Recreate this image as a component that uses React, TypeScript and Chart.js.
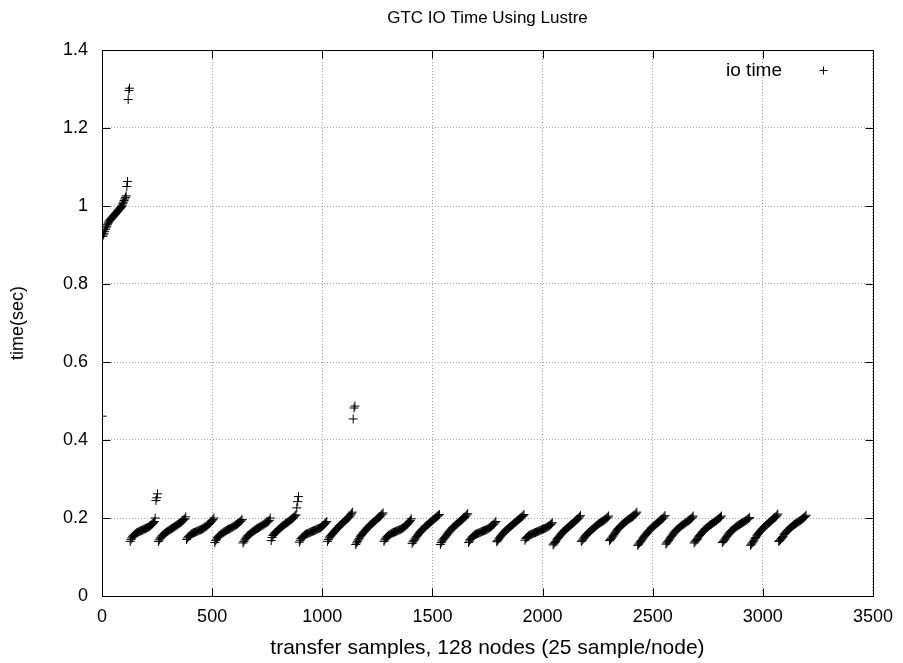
import { useEffect, useRef } from "react";
import { Chart, registerables } from "chart.js";

Chart.register(...registerables);

const TITLE = "GTC IO Time Using Lustre";
const X_TITLE = "transfer samples, 128 nodes (25 sample/node)";
const Y_TITLE = "time(sec)";
const SERIES_LABEL = "io time";

const X_TICKS = [0, 500, 1000, 1500, 2000, 2500, 3000, 3500];
const Y_TICKS = [0, 0.2, 0.4, 0.6, 0.8, 1.0, 1.2, 1.4];
const Y_TICK_LABELS = ["0", "0.2", "0.4", "0.6", "0.8", "1", "1.2", "1.4"];

const SAMPLES_PER_SEGMENT = 128;

// io time values per transfer round (sorted within each round, as plotted)
const SEG_00 = [0.461, 0.922, 0.926, 0.93, 0.935, 0.94, 0.944, 0.948, 0.952, 0.956, 0.959, 0.962, 0.964, 0.966, 0.968, 0.97, 0.972, 0.974, 0.976, 0.978, 0.98, 0.982, 0.984, 0.986, 0.988, 0.99, 0.992, 0.994, 0.996, 0.999, 1.002, 1.006, 1.01, 1.014, 1.018, 1.022, 1.026, 1.05, 1.063, 1.273, 1.296, 1.302];
const SEG_01 = [0.14, 0.145, 0.149, 0.152, 0.155, 0.157, 0.159, 0.16, 0.162, 0.163, 0.164, 0.165, 0.166, 0.167, 0.168, 0.169, 0.17, 0.171, 0.172, 0.173, 0.174, 0.175, 0.176, 0.177, 0.179, 0.18, 0.182, 0.184, 0.186, 0.188, 0.191, 0.2, 0.245, 0.252, 0.262];
const SEG_02 = [0.14, 0.144, 0.148, 0.151, 0.154, 0.156, 0.158, 0.16, 0.162, 0.164, 0.165, 0.167, 0.168, 0.17, 0.171, 0.173, 0.174, 0.176, 0.177, 0.179, 0.18, 0.182, 0.183, 0.185, 0.187, 0.188, 0.19, 0.192, 0.194, 0.196, 0.198, 0.203];
const SEG_03 = [0.145, 0.149, 0.152, 0.154, 0.156, 0.158, 0.16, 0.161, 0.162, 0.163, 0.164, 0.165, 0.166, 0.167, 0.168, 0.169, 0.17, 0.171, 0.172, 0.174, 0.175, 0.177, 0.178, 0.18, 0.182, 0.184, 0.186, 0.188, 0.191, 0.193, 0.196, 0.2];
const SEG_04 = [0.137, 0.142, 0.146, 0.15, 0.153, 0.155, 0.157, 0.159, 0.161, 0.162, 0.164, 0.165, 0.167, 0.168, 0.17, 0.171, 0.172, 0.173, 0.175, 0.176, 0.177, 0.179, 0.18, 0.182, 0.183, 0.185, 0.187, 0.189, 0.191, 0.193, 0.196];
const SEG_05 = [0.136, 0.14, 0.144, 0.148, 0.151, 0.154, 0.156, 0.158, 0.16, 0.162, 0.164, 0.165, 0.167, 0.169, 0.17, 0.172, 0.173, 0.175, 0.176, 0.178, 0.179, 0.181, 0.182, 0.184, 0.185, 0.187, 0.188, 0.19, 0.192, 0.194, 0.2];
const SEG_06 = [0.142, 0.15, 0.155, 0.158, 0.161, 0.163, 0.165, 0.167, 0.169, 0.171, 0.173, 0.175, 0.177, 0.179, 0.181, 0.182, 0.184, 0.186, 0.187, 0.189, 0.19, 0.192, 0.194, 0.195, 0.197, 0.199, 0.201, 0.203, 0.206, 0.208, 0.226, 0.242, 0.255];
const SEG_07 = [0.138, 0.143, 0.147, 0.15, 0.152, 0.154, 0.156, 0.158, 0.159, 0.16, 0.161, 0.162, 0.163, 0.164, 0.165, 0.166, 0.167, 0.168, 0.169, 0.17, 0.171, 0.172, 0.173, 0.174, 0.175, 0.177, 0.179, 0.181, 0.183, 0.186, 0.188, 0.191];
const SEG_08 = [0.14, 0.145, 0.149, 0.152, 0.155, 0.158, 0.16, 0.163, 0.165, 0.168, 0.17, 0.173, 0.175, 0.177, 0.18, 0.182, 0.184, 0.186, 0.188, 0.19, 0.192, 0.194, 0.196, 0.198, 0.2, 0.202, 0.205, 0.208, 0.211, 0.215, 0.454, 0.482, 0.487];
const SEG_09 = [0.132, 0.136, 0.14, 0.144, 0.148, 0.152, 0.155, 0.158, 0.161, 0.164, 0.166, 0.169, 0.171, 0.174, 0.176, 0.178, 0.181, 0.183, 0.185, 0.187, 0.189, 0.191, 0.193, 0.195, 0.197, 0.199, 0.201, 0.203, 0.205, 0.208, 0.21, 0.213];
const SEG_10 = [0.14, 0.144, 0.148, 0.151, 0.153, 0.155, 0.157, 0.158, 0.16, 0.161, 0.162, 0.163, 0.164, 0.165, 0.166, 0.167, 0.168, 0.169, 0.17, 0.171, 0.172, 0.174, 0.175, 0.177, 0.179, 0.181, 0.183, 0.185, 0.188, 0.191, 0.194, 0.198];
const SEG_11 = [0.135, 0.139, 0.142, 0.146, 0.149, 0.153, 0.156, 0.159, 0.162, 0.165, 0.167, 0.17, 0.172, 0.174, 0.177, 0.179, 0.181, 0.183, 0.185, 0.187, 0.189, 0.191, 0.193, 0.195, 0.197, 0.199, 0.201, 0.203, 0.205, 0.207, 0.209];
const SEG_12 = [0.132, 0.137, 0.141, 0.144, 0.147, 0.15, 0.153, 0.156, 0.159, 0.162, 0.165, 0.167, 0.17, 0.172, 0.175, 0.177, 0.179, 0.181, 0.183, 0.185, 0.187, 0.189, 0.191, 0.193, 0.195, 0.197, 0.199, 0.201, 0.203, 0.205, 0.208, 0.211];
const SEG_13 = [0.137, 0.141, 0.145, 0.148, 0.151, 0.153, 0.155, 0.157, 0.158, 0.159, 0.16, 0.161, 0.162, 0.163, 0.164, 0.165, 0.166, 0.167, 0.168, 0.169, 0.17, 0.171, 0.172, 0.174, 0.175, 0.177, 0.179, 0.181, 0.183, 0.185, 0.188, 0.191];
const SEG_14 = [0.139, 0.142, 0.146, 0.149, 0.152, 0.155, 0.158, 0.161, 0.163, 0.166, 0.168, 0.17, 0.172, 0.174, 0.176, 0.178, 0.18, 0.182, 0.184, 0.186, 0.188, 0.19, 0.192, 0.194, 0.196, 0.198, 0.2, 0.202, 0.204, 0.206, 0.209];
const SEG_15 = [0.143, 0.147, 0.15, 0.152, 0.154, 0.156, 0.157, 0.158, 0.159, 0.16, 0.161, 0.162, 0.163, 0.164, 0.165, 0.166, 0.167, 0.168, 0.169, 0.17, 0.171, 0.172, 0.173, 0.174, 0.175, 0.176, 0.178, 0.179, 0.181, 0.183, 0.185, 0.188];
const SEG_16 = [0.131, 0.134, 0.137, 0.14, 0.144, 0.147, 0.15, 0.153, 0.156, 0.159, 0.161, 0.164, 0.166, 0.168, 0.17, 0.172, 0.174, 0.176, 0.178, 0.18, 0.182, 0.184, 0.186, 0.188, 0.19, 0.192, 0.194, 0.196, 0.198, 0.2, 0.203, 0.206];
const SEG_17 = [0.14, 0.143, 0.146, 0.149, 0.152, 0.155, 0.158, 0.16, 0.163, 0.165, 0.167, 0.169, 0.171, 0.173, 0.175, 0.177, 0.179, 0.181, 0.183, 0.185, 0.187, 0.188, 0.19, 0.191, 0.193, 0.194, 0.196, 0.198, 0.2, 0.202, 0.205];
const SEG_18 = [0.142, 0.145, 0.148, 0.151, 0.154, 0.157, 0.161, 0.164, 0.167, 0.17, 0.173, 0.175, 0.178, 0.18, 0.182, 0.184, 0.186, 0.188, 0.19, 0.192, 0.194, 0.196, 0.197, 0.199, 0.2, 0.202, 0.203, 0.205, 0.207, 0.209, 0.212, 0.215];
const SEG_19 = [0.13, 0.133, 0.136, 0.139, 0.142, 0.146, 0.149, 0.152, 0.155, 0.158, 0.161, 0.164, 0.166, 0.169, 0.171, 0.174, 0.176, 0.178, 0.18, 0.182, 0.184, 0.186, 0.188, 0.19, 0.192, 0.194, 0.196, 0.198, 0.2, 0.203, 0.206];
const SEG_20 = [0.133, 0.136, 0.139, 0.142, 0.146, 0.149, 0.153, 0.156, 0.159, 0.162, 0.165, 0.167, 0.17, 0.172, 0.174, 0.176, 0.178, 0.18, 0.182, 0.183, 0.185, 0.187, 0.188, 0.19, 0.192, 0.193, 0.195, 0.197, 0.199, 0.202, 0.205];
const SEG_21 = [0.136, 0.139, 0.142, 0.145, 0.148, 0.152, 0.155, 0.158, 0.161, 0.164, 0.166, 0.169, 0.171, 0.173, 0.175, 0.177, 0.179, 0.181, 0.183, 0.184, 0.186, 0.188, 0.189, 0.191, 0.192, 0.194, 0.196, 0.198, 0.2, 0.202, 0.205];
const SEG_22 = [0.137, 0.14, 0.143, 0.146, 0.149, 0.153, 0.156, 0.159, 0.162, 0.165, 0.167, 0.169, 0.171, 0.173, 0.175, 0.177, 0.179, 0.18, 0.182, 0.183, 0.185, 0.186, 0.188, 0.189, 0.191, 0.192, 0.194, 0.195, 0.197, 0.199, 0.201];
const SEG_23 = [0.13, 0.133, 0.136, 0.139, 0.143, 0.147, 0.15, 0.154, 0.157, 0.16, 0.163, 0.166, 0.168, 0.171, 0.173, 0.176, 0.178, 0.18, 0.182, 0.184, 0.186, 0.188, 0.19, 0.192, 0.194, 0.196, 0.198, 0.2, 0.202, 0.204, 0.207, 0.21];
const SEG_24 = [0.14, 0.142, 0.144, 0.147, 0.15, 0.153, 0.157, 0.16, 0.163, 0.166, 0.168, 0.17, 0.172, 0.174, 0.176, 0.178, 0.18, 0.182, 0.184, 0.185, 0.187, 0.188, 0.19, 0.191, 0.193, 0.194, 0.196, 0.198, 0.2, 0.202, 0.204, 0.207];

const SEGMENTS = [
  SEG_00, SEG_01, SEG_02, SEG_03, SEG_04, SEG_05, SEG_06, SEG_07, SEG_08, SEG_09,
  SEG_10, SEG_11, SEG_12, SEG_13, SEG_14, SEG_15, SEG_16, SEG_17, SEG_18, SEG_19,
  SEG_20, SEG_21, SEG_22, SEG_23, SEG_24,
];

const FONT_FAMILY = "'Liberation Sans', Arial, Helvetica, sans-serif";
const W = 903;
const H = 663;

function buildPoints() {
  const pts: { x: number; y: number }[] = [];
  SEGMENTS.forEach((seg, k) => {
    const start = k * SAMPLES_PER_SEGMENT;
    const step = SAMPLES_PER_SEGMENT / seg.length;
    seg.forEach((v, i) => pts.push({ x: start + i * step, y: v }));
  });
  return pts;
}

const framePlugin = {
  id: "gnuplotFrame",
  afterDraw(chart: any) {
    const { ctx, chartArea } = chart;
    const { left, right, top, bottom } = chartArea;
    const xs = chart.scales.x;
    const ys = chart.scales.y;
    ctx.save();
    ctx.strokeStyle = "#000";
    ctx.lineWidth = 1;
    ctx.setLineDash([]);
    const L = Math.round(left) + 0.5;
    const R = Math.round(right) + 0.5;
    const T = Math.round(top) + 0.5;
    const B = Math.round(bottom) + 0.5;
    ctx.strokeRect(L, T, R - L, B - T);
    const tl = 8;
    ctx.beginPath();
    X_TICKS.forEach((v) => {
      const px = Math.round(xs.getPixelForValue(v)) + 0.5;
      ctx.moveTo(px, B);
      ctx.lineTo(px, B - tl);
      ctx.moveTo(px, T);
      ctx.lineTo(px, T + tl);
    });
    Y_TICKS.forEach((v) => {
      const py = Math.round(ys.getPixelForValue(v)) + 0.5;
      ctx.moveTo(L, py);
      ctx.lineTo(L + tl, py);
      ctx.moveTo(R, py);
      ctx.lineTo(R - tl, py);
    });
    ctx.stroke();

    // title
    ctx.fillStyle = "#000";
    ctx.font = `17px ${FONT_FAMILY}`;
    ctx.textAlign = "center";
    ctx.textBaseline = "middle";
    ctx.fillText(TITLE, (left + right) / 2, 18);

    // legend
    ctx.font = `19px ${FONT_FAMILY}`;
    ctx.textAlign = "right";
    ctx.fillText(SERIES_LABEL, 782, 71);
    ctx.beginPath();
    ctx.moveTo(819.5, 70.5);
    ctx.lineTo(827.5, 70.5);
    ctx.moveTo(823.5, 66.5);
    ctx.lineTo(823.5, 74.5);
    ctx.stroke();
    ctx.restore();
  },
};

export default function App() {
  const ref = useRef<HTMLCanvasElement | null>(null);
  useEffect(() => {
    if (!ref.current) return;
    const tickFont = { family: FONT_FAMILY, size: 18 };
    const chart = new Chart(ref.current, {
      type: "scatter",
      data: {
        datasets: [
          {
            label: SERIES_LABEL,
            data: buildPoints(),
            pointStyle: "cross",
            pointRadius: 4.5,
            borderWidth: 1,
            borderColor: "#000",
            backgroundColor: "#000",
            showLine: false,
          },
        ],
      },
      options: {
        responsive: false,
        animation: false,
        events: [],
        layout: { padding: { left: 0, right: 27, top: 50, bottom: 0 } },
        plugins: {
          legend: { display: false },
          title: { display: false },
          tooltip: { enabled: false },
        },
        scales: {
          x: {
            type: "linear",
            min: 0,
            max: 3500,
            afterBuildTicks: (s: any) => {
              s.ticks = X_TICKS.map((v) => ({ value: v }));
            },
            afterFit: (s: any) => {
              s.height = 67;
            },
            ticks: {
              font: tickFont,
              color: "#000",
              padding: 10,
              maxRotation: 0,
              callback: (v: any) => String(v),
            },
            grid: { color: "#a0a0a0", lineWidth: 1, drawTicks: false },
            border: { display: false, dash: [1, 2] },
            title: {
              display: true,
              text: X_TITLE,
              color: "#000",
              font: { family: FONT_FAMILY, size: 21 },
              padding: { top: 0, bottom: 2 },
            },
          },
          y: {
            type: "linear",
            min: 0,
            max: 1.4,
            afterBuildTicks: (s: any) => {
              s.ticks = Y_TICKS.map((v) => ({ value: v }));
            },
            afterFit: (s: any) => {
              s.width = 102;
            },
            ticks: {
              font: tickFont,
              color: "#000",
              padding: 14,
              callback: (_v: any, i: number) => Y_TICK_LABELS[i],
            },
            grid: { color: "#a0a0a0", lineWidth: 1, drawTicks: false },
            border: { display: false, dash: [1, 2] },
            title: {
              display: true,
              text: Y_TITLE,
              color: "#000",
              font: { family: FONT_FAMILY, size: 18 },
              padding: { top: 7, bottom: 0 },
            },
          },
        },
      },
      plugins: [framePlugin],
    });
    return () => chart.destroy();
  }, []);
  return (
    <div style={{ position: "absolute", left: 0, top: 0, width: W, height: H, background: "#fff" }}>
      <canvas ref={ref} width={W} height={H} style={{ display: "block", width: W, height: H }} />
    </div>
  );
}
